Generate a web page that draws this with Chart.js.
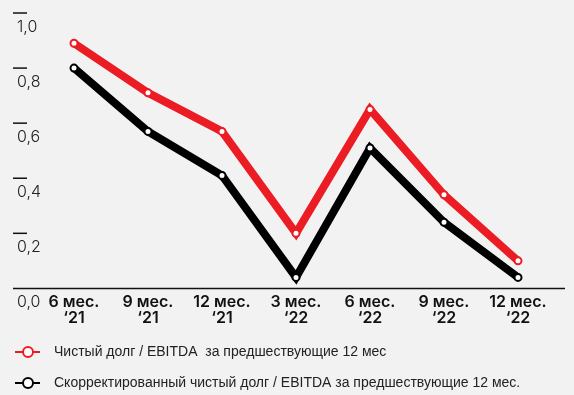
<!DOCTYPE html>
<html>
<head>
<meta charset="utf-8">
<script src="https://cdn.jsdelivr.net/npm/chart.js@4.4.1/dist/chart.umd.min.js"></script>
<style>
  html, body { margin: 0; padding: 0; background: #f2f2f2; }
  #wrap { width: 574px; height: 395px; }
</style>
</head>
<body>
<div id="wrap"><canvas id="debtChart" width="574" height="395"></canvas></div>
<script>
/* периоды */
let periods = [
    ['6 мес.', '‘21'], ['9 мес.', '‘21'], ['12 мес.', '‘21'],
    ['3 мес.', '‘22'], ['6 мес.', '‘22'], ['9 мес.', '‘22'], ['12 мес.', '‘22']
];
/* Чистый долг / EBITDA */
let netDebt = [0.89, 0.71, 0.57, 0.20, 0.65, 0.34, 0.10];
/* Скорректированный */
let adjNetDebt = [0.80, 0.57, 0.41, 0.04, 0.51, 0.24, 0.04];
/* деления оси Y */
let yTicks = [0, 0.2, 0.4, 0.6, 0.8, 1.0];
let yTickLabels = ['0,0', '0,2', '0,4', '0,6', '0,8', '1,0'];

let legendLabels = [
    'Чистый долг / EBITDA  за предшествующие 12 мес',
    'Скорректированный чистый долг / EBITDA за предшествующие 12 мес.'
];

const RED = '#ec1c24';

// ось Y, линия оси X и легенда рисуются вручную
const decorPlugin = {
    id: 'decor',
    afterDraw(chart) {
        const ctx = chart.ctx;
        const y = chart.scales.y;
        ctx.save();
        // линия оси
        ctx.strokeStyle = '#111';
        ctx.lineWidth = 1.5;
        ctx.beginPath();
        ctx.moveTo(13, y.getPixelForValue(0));
        ctx.lineTo(565, y.getPixelForValue(0));
        ctx.stroke();
        // деления и подписи
        ctx.font = '300 16px Inter';
        ctx.fillStyle = '#222';
        ctx.textBaseline = 'middle';
        ctx.textAlign = 'left';
        yTicks.forEach((v, i) => {
            const py = y.getPixelForValue(v);
            if (v > 0) {
                ctx.lineWidth = 1.5;
                ctx.beginPath();
                ctx.moveTo(13, py);
                ctx.lineTo(27, py);
                ctx.stroke();
            }
            ctx.fillText(yTickLabels[i], 17, py + 14);
        });
        // легенда
        const rows = [352, 383];
        chart.data.datasets.forEach((ds, i) => {
            const ly = rows[i];
            ctx.strokeStyle = ds.borderColor;
            ctx.lineWidth = 2;
            ctx.beginPath();
            ctx.moveTo(15, ly);
            ctx.lineTo(40, ly);
            ctx.stroke();
            ctx.fillStyle = '#fff';
            ctx.beginPath();
            ctx.arc(28, ly, 5, 0, Math.PI * 2);
            ctx.fill();
            ctx.stroke();
            ctx.fillStyle = '#222';
            ctx.font = '14px "Liberation Sans", Arial';
            ctx.fillText(legendLabels[i], 54, ly);
        });
        ctx.restore();
    }
};

let ctxDebt = document.getElementById('debtChart').getContext('2d');
let debtChart = new Chart(ctxDebt, {
    type: 'line',
    data: {
        labels: periods,
        datasets: [{
            label: legendLabels[0],
            data: netDebt,
            borderColor: RED,
            borderWidth: 8,
            pointRadius: 3.5,
            pointBorderWidth: 2,
            pointBackgroundColor: '#fff',
            pointBorderColor: RED
        }, {
            label: legendLabels[1],
            data: adjNetDebt,
            borderColor: '#000',
            borderWidth: 8,
            pointRadius: 3.5,
            pointBorderWidth: 2,
            pointBackgroundColor: '#fff',
            pointBorderColor: '#000'
        }]
    },
    options: {
        responsive: false,
        animation: false,
        layout: { padding: { left: 37, right: 19, top: 13, bottom: 63 } },
        plugins: { legend: { display: false }, tooltip: { enabled: false } },
        scales: {
            x: {
                offset: true,
                grid: { display: false, drawTicks: false },
                border: { display: false },
                ticks: {
                    color: '#111',
                    padding: 5,
                    maxRotation: 0,
                    autoSkip: false,
                    font: { family: 'Inter', size: 16, weight: 600, lineHeight: 1.05 }
                }
            },
            y: {
                display: false,
                min: 0,
                max: 1
            }
        }
    },
    plugins: [decorPlugin]
});
</script>
</body>
</html>
